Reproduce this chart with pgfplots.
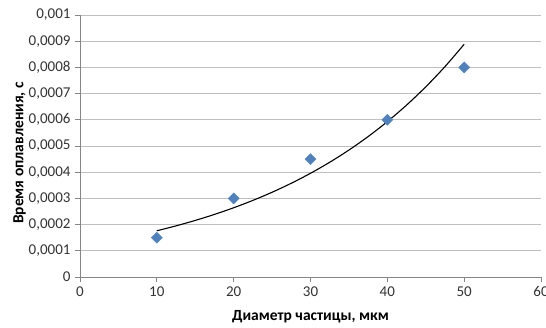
\documentclass[border=0pt]{standalone}
\usepackage{pgfplots}
\pgfplotsset{compat=1.18}
\usepackage{fontspec}
\setmainfont{Carlito}
\definecolor{gridgray}{HTML}{BFBFBF}
\definecolor{axisgray}{HTML}{868686}
\definecolor{markblue}{HTML}{4F81BD}
\begin{document}
\begin{tikzpicture}
\begin{axis}[
  name=ax,
  scale only axis,
  width=461pt, height=262pt,
  xmin=0, xmax=60, ymin=0, ymax=0.001,
  xtick={0,10,...,60},
  ytick={0,0.0001,0.0002,0.0003,0.0004,0.0005,0.0006,0.0007,0.0008,0.0009,0.001},
  yticklabels={0,{0,0001},{0,0002},{0,0003},{0,0004},{0,0005},{0,0006},{0,0007},{0,0008},{0,0009},{0,001}},
  scaled y ticks=false,
  axis x line*=bottom, axis y line*=left,
  axis line style={axisgray, line width=0.8pt, -},
  ymajorgrids, grid style={gridgray, line width=0.8pt},
  tick style={axisgray, line width=0.8pt},
  tick align=outside, major tick length=5pt,
  /pgf/number format/assume math mode=true,
  tick label style={font=\fontsize{15}{17}\selectfont, text=black!80},
  yticklabel style={xshift=-1pt},
  xticklabel style={yshift=-1pt},
  xlabel={\textbf{Диаметр частицы, мкм}},
  ylabel={\textbf{Время оплавления, с}},
  label style={font=\fontsize{15.5}{18}\selectfont},
  xlabel style={yshift=-7pt},
  ylabel style={yshift=-4pt, xshift=-7pt},
  clip=false,
]
% measured melting times
\addplot[only marks, mark=square*, mark size=3.9pt, mark options={rotate=45, fill=markblue, draw=markblue}]
  coordinates {(10,0.00015) (20,0.0003) (30,0.00045) (40,0.0006) (50,0.0008)};
% exponential trend line
\addplot[black, line width=1.1pt, smooth] coordinates {
  (10,0.00017642) (12.5,0.00019517) (15,0.00021592) (17.5,0.00023888)
  (20,0.00026427) (22.5,0.00029236) (25,0.00032345) (27.5,0.00035783)
  (30,0.00039587) (32.5,0.00043795) (35,0.00048451) (37.5,0.00053601)
  (40,0.00059300) (42.5,0.00065604) (45,0.00072578) (47.5,0.00080292)
  (50,0.00088828)};
\end{axis}
\pgfresetboundingbox
\path[use as bounding box] ([shift={(-80pt,-50pt)}]ax.south west) rectangle ([shift={(5pt,15pt)}]ax.north east);
\end{tikzpicture}
\end{document}
